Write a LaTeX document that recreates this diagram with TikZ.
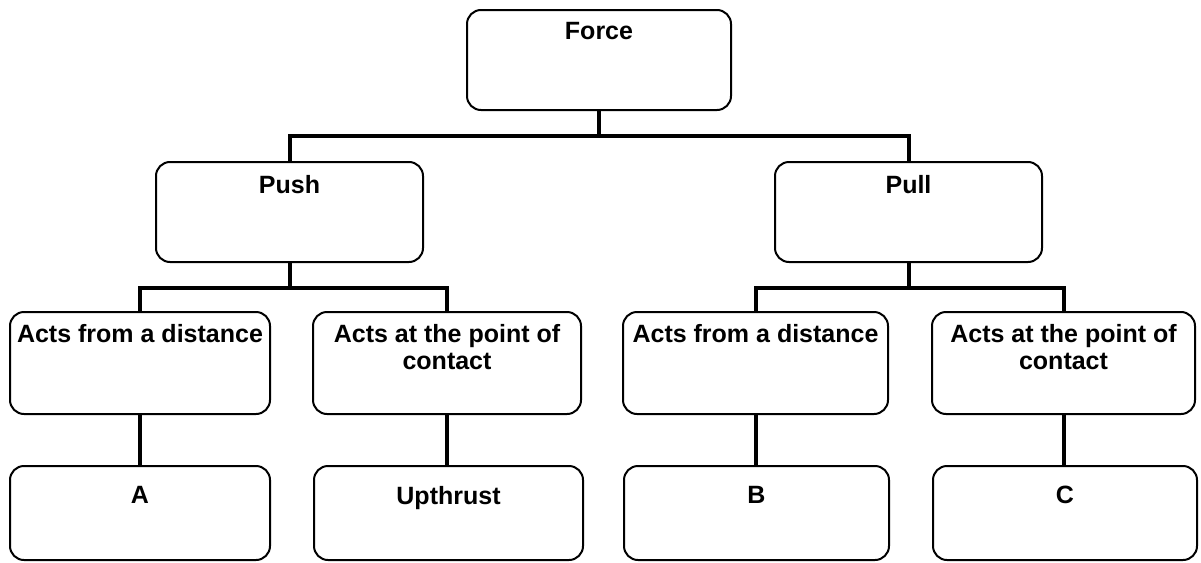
\documentclass[tikz,border=0pt]{standalone}
\usepackage{fontspec}
\setmainfont{Liberation Sans}
\begin{document}
\begin{tikzpicture}[x=1pt,y=-1pt,
  box/.style={draw, line width=2pt, rounded corners=14pt, inner sep=0pt, minimum height=#1},
  box/.default=100pt,
  lbl/.style={anchor=north, inner sep=0pt, align=center, font=\bfseries\fontsize{25}{27}\selectfont},
  link/.style={line width=4pt}]
\useasboundingbox (0,0) rectangle (1201,562);

% top level
\node[box, minimum width=264pt] (force) at (599,60) {};
\node[lbl] (force-t) at ([yshift=-13pt]force.north) {Force};

% second level
\node[box, minimum width=267pt] (push) at (289.5,212) {};
\node[lbl] (push-t) at ([yshift=-14pt]push.north) {Push};
\node[box, minimum width=267pt] (pull) at (908.5,212) {};
\node[lbl] (pull-t) at ([yshift=-14pt]pull.north) {Pull};

% third level
\node[box=102pt, minimum width=260pt] (d1) at (140,363) {};
\node[lbl] (d1-t) at ([yshift=-13pt]d1.north) {Acts from a distance};
\node[box=102pt, minimum width=268pt] (c1) at (447,363) {};
\node[lbl] (c1-t) at ([yshift=-13pt]c1.north) {Acts at the point of\\contact};
\node[box=102pt, minimum width=265pt] (d2) at (755.5,363) {};
\node[lbl] (d2-t) at ([yshift=-13pt]d2.north) {Acts from a distance};
\node[box=102pt, minimum width=263pt] (c2) at (1063.5,363) {};
\node[lbl] (c2-t) at ([yshift=-13pt]c2.north) {Acts at the point of\\contact};

% bottom level
\node[box=94pt, minimum width=260pt] (a) at (140,513) {};
\node[lbl] (a-t) at ([yshift=-21pt]a.north) {A};
\node[box=94pt, minimum width=269pt] (up) at (448.5,513) {};
\node[lbl] (up-t) at ([yshift=-21pt]up.north) {Upthrust};
\node[box=94pt, minimum width=265pt] (b) at (756.5,513) {};
\node[lbl] (b-t) at ([yshift=-21pt]b.north) {B};
\node[box=94pt, minimum width=264pt] (c) at (1065,513) {};
\node[lbl] (c-t) at ([yshift=-21pt]c.north) {C};

% junction points of the connectors
\coordinate (bus0) at (599,136);
\coordinate (bus1) at (289.5,288);
\coordinate (bus2) at (908.5,288);

\draw[link] (force.south) -- (bus0);
\draw[link] (push.north) |- (bus0) -| (pull.north);

\draw[link] (push.south) -- (bus1);
\draw[link] (d1.north) |- (bus1) -| (c1.north);
\draw[link] (pull.south) -- (bus2);
\draw[link] (d2.north) |- (bus2) -| (c2.north);

% straight drops to the bottom row
\draw[link] (d1.south) -- (d1.south |- a.north);
\draw[link] (c1.south) -- (c1.south |- up.north);
\draw[link] (d2.south) -- (d2.south |- b.north);
\draw[link] (c2.south) -- (c2.south |- c.north);
\end{tikzpicture}
\end{document}
